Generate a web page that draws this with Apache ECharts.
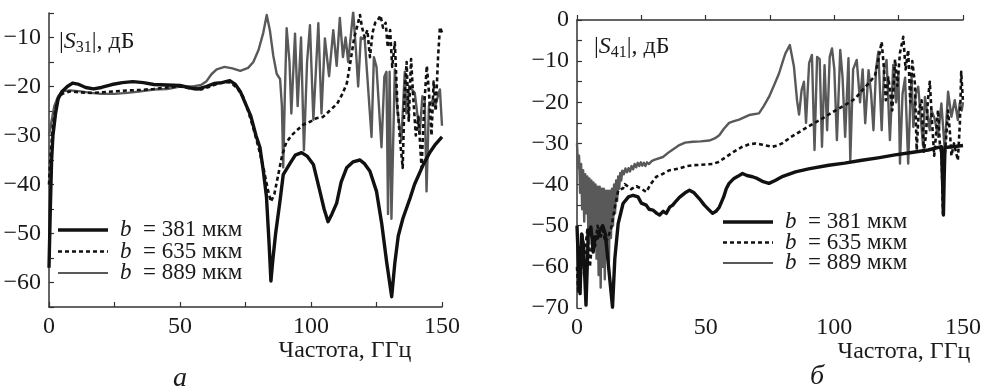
<!DOCTYPE html>
<html>
<head>
<meta charset="utf-8">
<script src="https://cdn.jsdelivr.net/npm/echarts@6/dist/echarts.min.js"></script>
<style>
  html, body { margin: 0; padding: 0; background: #fff; }
  #chart { width: 984px; height: 391px; }
</style>
</head>
<body>
<div id="chart"></div>
<script>
// |S31| (left panel), points are [frequency GHz, dB]
const s31_b381 = [[0,-57],[0.5,-45],[1,-35],[1.5,-30],[2.5,-25.5],[3.5,-22.5],[5,-21],[7,-20],[9,-19.3],[11,-19.5],[14,-20.2],[17,-20.5],[20,-20.2],[24,-19.6],[28,-19.2],[32,-19],[36,-19.2],[40,-19.6],[45,-19.7],[50,-19.8],[54,-20.3],[57,-20.5],[60,-20],[63,-19.4],[66,-19.2],[69,-18.8],[71,-19.5],[73,-21],[75,-23.5],[77,-26],[79,-30],[80.5,-32.4],[81.8,-37.2],[83,-42.5],[84,-52],[84.7,-59.7],[85.5,-55],[86.5,-50],[88.2,-43.2],[89.4,-38],[92,-35.7],[94,-34],[96.4,-33.5],[98.5,-34.2],[100.9,-35.9],[103.4,-41.4],[105,-45],[106.5,-47.6],[108,-46],[109.8,-43.8],[111.5,-39.5],[113.6,-36.6],[116,-35.4],[118.7,-35],[120.5,-35.8],[122.5,-37.3],[125,-41.4],[127,-48],[128.9,-55.9],[130.8,-62.9],[132,-56],[133.3,-50.5],[135.1,-46.9],[137.8,-42.8],[139.5,-40],[142.9,-35.9],[145.4,-33.4],[147.5,-31.8],[150,-30.3]];
const s31_b635 = [[0,-40],[0.7,-33],[1.5,-28],[2.5,-24.5],[3.5,-22.5],[5,-21.5],[8,-21],[12,-21.2],[16,-21.3],[20,-21.2],[25,-21],[30,-20.8],[35,-20.7],[40,-20.5],[45,-20.2],[50,-20],[55,-20.5],[58,-20.6],[61,-20.1],[64,-19.5],[67,-19.1],[69.5,-19.2],[72,-20.5],[74,-22],[76,-25],[78,-28.5],[80,-32.5],[82,-37],[83.5,-41],[84.7,-43.5],[86,-42],[87.5,-38],[89,-34],[90.5,-31.5],[92.5,-30],[94.7,-28.9],[97,-27.8],[99.6,-27.2],[102,-26.5],[104.6,-26.2],[107,-25],[110,-23.5],[112,-21.5],[113.7,-19.3],[115,-15.1],[116.5,-10],[117.5,-8],[118.7,-5.4],[119.5,-8],[120.5,-10],[121.5,-8.5],[122.5,-14],[123.5,-9],[124.5,-7],[125.5,-6.5],[126.5,-5.5],[127.5,-8],[128.5,-7],[129.3,-12],[130.2,-8.5],[131,-16],[132,-11],[133,-24],[134,-31],[135,-36.6],[135.7,-22],[136.5,-15],[137.3,-27],[138.2,-14.4],[139,-22],[140,-30],[141,-26.2],[142.2,-36.6],[143.2,-24],[144.2,-15.8],[145,-21],[146,-30],[146.8,-19],[147.6,-25],[148.5,-14],[149.2,-7.9],[150,-9]];
const s31_b889 = [[0,-30],[1,-27],[2,-24],[3.5,-22],[5,-21],[8,-20.8],[12,-21],[16,-21.3],[20,-21.5],[25,-21.5],[30,-21.3],[35,-21],[40,-20.6],[45,-20.5],[50,-20],[55,-20],[58,-19.7],[60,-19],[62,-17.5],[64,-16.5],[67,-16],[70,-16.3],[73,-16.8],[76,-16.2],[78,-15],[80,-12.5],[81.8,-9],[83.1,-5.4],[84.3,-8.5],[85.6,-13.7],[86.9,-17.4],[88.2,-18.5],[88.9,-24],[89.4,-36.5],[90,-22],[90.7,-8.1],[91.8,-15],[92.5,-25.5],[93.9,-9.2],[94.9,-24],[96.2,-10],[97.3,-33],[98.5,-15],[99.6,-7.5],[100.9,-26.8],[102.8,-7.1],[104,-25.5],[105.3,-10.2],[106.9,-17.9],[108.5,-8.5],[109.8,-15.8],[111,-6],[112.2,-14],[113.2,-10],[114.2,-15],[116.1,-4.7],[117.2,-13],[118,-20],[119,-10],[120.5,-10.3],[121.5,-18],[123.1,-30.3],[124,-14],[125,-16],[126.9,-32.4],[128,-18],[128.8,-17],[129.4,-46],[130,-17],[130.7,-47],[132,-16.5],[133,-25],[134.5,-31],[135.8,-17],[136.4,-25.5],[137.5,-20],[139.6,-21.3],[141.5,-29.6],[142.5,-22],[143.4,-22.7],[144.1,-41.4],[145,-24],[146.6,-22.7],[147.3,-24.1],[149.2,-20.6],[150,-28]];

// |S41| (right panel)
const s41_b381 = [[0,-50],[0.6,-60],[1.2,-66.5],[1.8,-52],[2.5,-55],[3.5,-69.3],[4.4,-51.7],[5.4,-50.3],[6.3,-56.4],[7,-52.7],[8,-53],[9,-51],[10,-50],[11,-52],[12.1,-58.9],[13.8,-69.8],[14.7,-58],[16,-49.5],[17.9,-44.6],[20,-43],[21.8,-42.6],[23.7,-43],[25,-44.5],[26.9,-45],[28,-46],[29.5,-46.2],[31,-47],[32.1,-47.4],[33.5,-46.5],[34.7,-47],[36,-45.5],[37.2,-45],[38.5,-44],[39.8,-43.1],[42,-42],[43.7,-41.4],[45.5,-42],[47.5,-43.4],[49.5,-45],[51.4,-46.2],[52.7,-47],[54,-46.5],[55.3,-45.5],[57,-43],[58,-41],[59.1,-39.7],[61,-38.5],[62.5,-38],[64.3,-37.3],[66,-37.8],[68.2,-38.1],[70,-38.5],[72,-39.2],[74.6,-39.7],[77,-39],[80,-38],[84.9,-36.9],[90,-36.2],[97.8,-35.3],[104,-34.8],[110.7,-34.1],[117,-33.5],[123.6,-32.8],[130,-32.2],[136.5,-31.6],[141.6,-30.8],[142.1,-40],[142.4,-47.4],[142.7,-38],[143,-31],[146,-30.8],[150,-30.5]];
const s41_b635 = [[0,-60],[0.5,-66],[1,-55],[1.5,-62],[2,-52],[3,-57],[4,-51],[5,-60],[6,-53],[7,-55],[8,-50],[9,-53],[10,-51],[11,-54],[12,-53],[13.4,-50.3],[14.7,-45.5],[16,-41.5],[17.9,-40.9],[18.6,-39.9],[21.1,-41.1],[23.1,-40.4],[25,-41],[26.9,-41.8],[28.5,-40],[30.8,-38.1],[33,-37.5],[36,-36.5],[39.8,-36.1],[42,-35.6],[45,-35.3],[48,-35.2],[52.7,-35],[55,-34.5],[57.9,-33.3],[61,-32],[64.3,-30.8],[67,-30.2],[69.5,-30],[72,-30.3],[75.9,-30.8],[78,-30.5],[79.7,-30],[83,-28.5],[87.5,-26.8],[91,-25.5],[95.2,-24],[99,-22.5],[102.9,-21.1],[106,-20],[108.1,-19.1],[111,-17],[113.3,-15.4],[115.8,-13.5],[117,-10],[118.4,-5.3],[119.3,-12],[120,-19.5],[121,-14],[122.5,-22],[123.6,-9.6],[124.5,-16],[125.5,-8],[126.8,-4.1],[127.7,-12],[128.7,-7.3],[129.5,-20],[130.3,-10],[131.3,-15.4],[132,-31.6],[132.8,-22],[133.9,-19.5],[134.8,-32],[135.6,-28],[136.3,-20],[137.1,-15],[138,-25],[138.8,-33],[139.5,-28],[140.3,-21.9],[141,-30],[141.7,-33],[142.2,-47],[142.6,-35],[143.3,-30],[144.2,-22],[145,-28],[145.5,-33],[146.5,-30],[148,-34.1],[148.8,-25],[149.3,-12.6],[150,-20]];
const s41_b889 = [[0,-30],[0.4,-36],[0.8,-33],[1.2,-42],[1.6,-35],[2,-46],[2.4,-36.5],[2.8,-49],[3.2,-37.5],[3.6,-47],[4,-38],[4.4,-52],[4.8,-38.5],[5.2,-50],[5.6,-39],[6,-55],[6.4,-39.5],[6.8,-53],[7.2,-40],[7.6,-58],[8,-40.5],[8.4,-62],[8.8,-40.5],[9.2,-65],[9.6,-41],[10,-60],[10.4,-41],[10.8,-63],[11.2,-41.5],[11.6,-57],[12,-41.5],[12.4,-59],[12.8,-41.5],[13.2,-53],[13.6,-41],[14,-50],[14.4,-40],[14.8,-47],[15.2,-39],[15.6,-44],[16,-38],[16.4,-41],[16.8,-37.2],[17.2,-39],[17.6,-36.6],[18.2,-37.5],[18.8,-36.1],[19.4,-37],[20,-36],[20.6,-36.8],[21.2,-35.5],[21.8,-36.3],[22.4,-35],[23,-35.8],[23.6,-34.7],[24.2,-35.5],[24.8,-34.6],[25.4,-35.4],[26,-34.7],[26.6,-35.5],[27.2,-34.6],[28,-35],[29,-34.3],[30,-34],[33.4,-33.3],[36,-32],[39.8,-30.4],[42,-29.8],[45,-29.6],[48,-29.5],[51.4,-29.3],[53.5,-28.8],[55.3,-28],[57,-26.5],[59.1,-25],[61,-24.6],[63,-24.2],[66.9,-23.1],[70.7,-22.7],[72.5,-21],[74.6,-18.7],[76.5,-16],[78.5,-13],[80,-10],[81,-8.1],[82.7,-6.1],[84.3,-11.3],[85.5,-19.5],[86.3,-23],[87.3,-17],[88.2,-15],[89,-25],[90.2,-10.5],[91.3,-8.5],[92.3,-31.6],[93.3,-9],[94.3,-9.5],[95.2,-30.8],[96.2,-11],[97.2,-26.8],[98.2,-9],[99.1,-6.9],[100,-12],[101,-29.2],[102.3,-7.3],[103.2,-14],[104.2,-28.4],[105.5,-9.3],[106.2,-34.1],[107.3,-12],[108.7,-9.7],[110,-20],[111,-12],[112,-25.1],[113.3,-12.2],[114.3,-18],[115.2,-26.8],[116.2,-12],[117.1,-7.7],[118.4,-26.8],[119.3,-12],[120.3,-9.7],[121.6,-29.2],[122.9,-10.9],[124,-20],[124.9,-13],[125.5,-34.9],[126.5,-18],[127.5,-14],[128.7,-34.9],[129.5,-20],[130,-13.8],[130.7,-26],[131.6,-18],[132.6,-16.2],[134.5,-30.8],[135.2,-18.7],[137.1,-26.8],[137.7,-21.9],[139,-24],[140.3,-28.4],[141.6,-20.3],[142.9,-31.6],[144.2,-17.4],[145.5,-23.5],[146.8,-19.5],[148,-24.3],[148.7,-20.3],[149.5,-22],[150,-20]];

const seriesNames = ['b = 381 мкм', 'b = 635 мкм', 'b = 889 мкм'];
const legendWidths = ['381', '635', '889'];
const xLabelTitle = 'Частота, ГГц';

const FONT = 'Liberation Serif';
const INK = '#1a1a1a';
const AXIS = '#333';
const LABEL_SIZE = 24;

const styles = [
  { color: '#111', width: 3.4, type: 'solid' },
  { color: '#111', width: 2.6, type: [4, 3] },
  { color: '#595959', width: 2.4, type: 'solid' }
];

function fmtNum(v, step) {
  if (Math.round(v) % step !== 0) return '';
  return v < 0 ? '\u2212' + (-v) : String(v);
}

function xAxisFor(i) {
  return {
    type: 'value', gridIndex: i, min: 0, max: 150, interval: 25,
    axisLine: { lineStyle: { color: AXIS, width: 1.5 } },
    axisTick: { inside: true, length: 5, lineStyle: { color: AXIS, width: 1.2 } },
    axisLabel: { formatter: v => fmtNum(v, 50), fontFamily: FONT, fontSize: LABEL_SIZE, color: INK, margin: 8 },
    splitLine: { show: false }
  };
}
function yAxisFor(i, min, max) {
  return {
    type: 'value', gridIndex: i, min: min, max: max, interval: 5,
    axisLine: { show: true, lineStyle: { color: AXIS, width: 1.5 } },
    axisTick: { show: true, inside: true, length: 5, lineStyle: { color: AXIS, width: 1.2 } },
    axisLabel: { formatter: v => fmtNum(v, 10), fontFamily: FONT, fontSize: LABEL_SIZE, color: INK, margin: 8 },
    splitLine: { show: false }
  };
}

function lineSeries(name, data, k, gi) {
  return {
    name: name, type: 'line', xAxisIndex: gi, yAxisIndex: gi, data: data,
    showSymbol: false, symbol: 'none', animation: false,
    lineStyle: { color: styles[k].color, width: styles[k].width, type: styles[k].type, join: 'round' },
    z: 10 - k
  };
}

// legend rows drawn as graphic elements
function legendBlock(x0, y0, dy) {
  const els = [];
  for (let k = 0; k < 3; k++) {
    const y = y0 + k * dy;
    els.push({
      type: 'line', shape: { x1: x0, y1: y, x2: x0 + 50, y2: y },
      style: { stroke: styles[k].color, lineWidth: k === 2 ? 2 : (k === 0 ? 3.5 : 2.6), lineDash: k === 1 ? [4, 3] : null }
    });
    els.push({
      type: 'text', x: x0 + 62, y: y, style: {
        text: '{i|b}  = ' + legendWidths[k] + ' мкм', fill: INK,
        fontFamily: FONT, fontSize: 23, verticalAlign: 'middle',
        rich: { i: { fontStyle: 'italic', fontFamily: FONT, fontSize: 23, fill: INK } }
      }
    });
  }
  return els;
}

function sTitle(x, y, sub) {
  return {
    type: 'text', x: x, y: y, style: {
      text: '|{i|S}{s|' + sub + '}|, дБ', fill: INK, fontFamily: FONT, fontSize: 24,
      verticalAlign: 'middle', lineHeight: 28,
      rich: {
        i: { fontStyle: 'italic', fontFamily: FONT, fontSize: 24, lineHeight: 28, verticalAlign: 'middle', fill: INK },
        s: { fontFamily: FONT, fontSize: 16, lineHeight: 17, verticalAlign: 'bottom', fill: INK }
      }
    }
  };
}

function plainText(x, y, str, size, italic, align) {
  return {
    type: 'text', x: x, y: y, style: {
      text: str, fill: INK, fontFamily: FONT, fontSize: size, fontStyle: italic ? 'italic' : 'normal',
      align: align || 'center', verticalAlign: 'middle'
    }
  };
}

const chart = echarts.init(document.getElementById('chart'), null, { renderer: 'canvas' });
chart.setOption({
  backgroundColor: '#fff',
  animation: false,
  grid: [
    { left: 49, top: 13, width: 393, height: 294 },
    { left: 577, top: 20, width: 388, height: 288 }
  ],
  xAxis: [xAxisFor(0), xAxisFor(1)],
  yAxis: [yAxisFor(0, -65, -5), yAxisFor(1, -70, 0)],
  series: [
    lineSeries(seriesNames[2], s31_b889, 2, 0),
    lineSeries(seriesNames[1], s31_b635, 1, 0),
    lineSeries(seriesNames[0], s31_b381, 0, 0),
    lineSeries(seriesNames[2], s41_b889, 2, 1),
    lineSeries(seriesNames[1], s41_b635, 1, 1),
    lineSeries(seriesNames[0], s41_b381, 0, 1)
  ],
  graphic: [
    sTitle(59, 42, '31'),
    sTitle(594, 47, '41'),
    ...legendBlock(58, 230, 21.5),
    ...legendBlock(723, 222, 20.5),
    plainText(345, 351, xLabelTitle, LABEL_SIZE, false),
    plainText(904, 352, xLabelTitle, LABEL_SIZE, false),
    plainText(180, 379, 'а', 28, true),
    plainText(817, 377, 'б', 28, true)
  ]
});
</script>
</body>
</html>
